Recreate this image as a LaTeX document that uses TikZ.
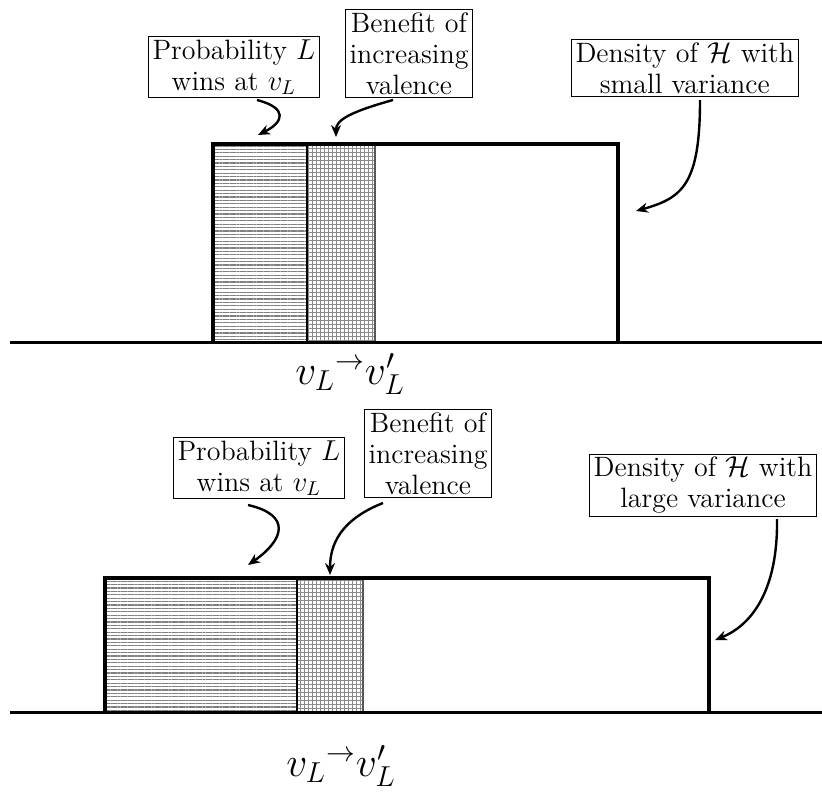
\documentclass[tikz,border=0pt]{standalone}
\usetikzlibrary{patterns.meta,arrows.meta}
\begin{document}
\begin{tikzpicture}[x=0.5pt,y=-0.5pt,
  lbl/.style={draw,line width=0.5pt,align=center,inner xsep=2pt,inner ysep=1.5pt,font=\fontsize{14}{15.5}\selectfont},
  ptr/.style={line width=1.2pt,-{Stealth[length=6pt,width=5pt]}},
  densline/.style={line width=2pt,line join=miter},
  axisline/.style={line width=1.5pt},
  hatchH/.style={pattern={Lines[angle=0,distance=1.7pt,line width=0.6pt]},pattern color=gray},
  hatchX/.style={pattern={Hatch[angle=0,distance=2pt,line width=0.3pt]},pattern color=gray!90},
  sepline/.style={line width=0.8pt},
  edgeline/.style={line width=0.6pt,gray!70!black},
  vlab/.style={font=\fontsize{22}{26}\selectfont}]
\useasboundingbox (0,0) rectangle (822,792);

% ---------- top panel ----------
\fill[hatchH] (215,146) rectangle (307,341);
\fill[hatchX] (307,146) rectangle (375,341);
\draw[sepline] (307,146) -- (307,341);
\draw[edgeline] (375,146) -- (375,341);
\draw[densline] (213,342) -- (213,144) -- (618,144) -- (618,342);
\draw[axisline] (10,342) -- (822,342);

\node[lbl,anchor=south west] (probT) at (148,98) {Probability $L$\\ wins at $v_L$};
\node[lbl,anchor=south west] (beneT) at (345,98) {Benefit of\\ increasing\\ valence};
\node[lbl,anchor=south west] (densT) at (571,97) {Density of $\mathcal{H}$ with\\ small variance};
\node[vlab] (vT) at (350,374) {$v_L{}^{\rightarrow}v'_L$};

\coordinate (probTs) at (257,100); \coordinate (probTe) at (258,135);
\coordinate (beneTs) at (393,100); \coordinate (beneTe) at (336,137);
\coordinate (densTs) at (700,100); \coordinate (densTe) at (636,211);
\draw[ptr] (probTs) .. controls (288,108) and (284,122) .. (probTe);
\draw[ptr] (beneTs) .. controls (350,112) and (336,120) .. (beneTe);
\draw[ptr] (densTs) .. controls (700,185) and (682,198) .. (densTe);

% ---------- bottom panel ----------
\fill[hatchH] (107,580) rectangle (297,711);
\fill[hatchX] (297,580) rectangle (363,711);
\draw[sepline] (297,580) -- (297,711);
\draw[edgeline] (363,580) -- (363,711);
\draw[densline] (105,712) -- (105,578) -- (709,578) -- (709,712);
\draw[axisline] (10,712) -- (822,712);

\node[lbl,anchor=south west] (probB) at (173,499) {Probability $L$\\ wins at $v_L$};
\node[lbl,anchor=south west] (beneB) at (364,498) {Benefit of\\ increasing\\ valence};
\node[lbl,anchor=south] (densB) at (703,517) {Density of $\mathcal{H}$ with\\ large variance};
\node[vlab] (vB) at (341,766) {$v_L{}^{\rightarrow}v'_L$};

\coordinate (probBs) at (248,505); \coordinate (probBe) at (248,565);
\coordinate (beneBs) at (383,503); \coordinate (beneBe) at (330,575);
\coordinate (densBs) at (777,519); \coordinate (densBe) at (715,640);
\draw[ptr] (probBs) .. controls (292,515) and (284,540) .. (probBe);
\draw[ptr] (beneBs) .. controls (340,520) and (330,545) .. (beneBe);
\draw[ptr] (densBs) .. controls (778,590) and (752,625) .. (densBe);
\end{tikzpicture}
\end{document}
